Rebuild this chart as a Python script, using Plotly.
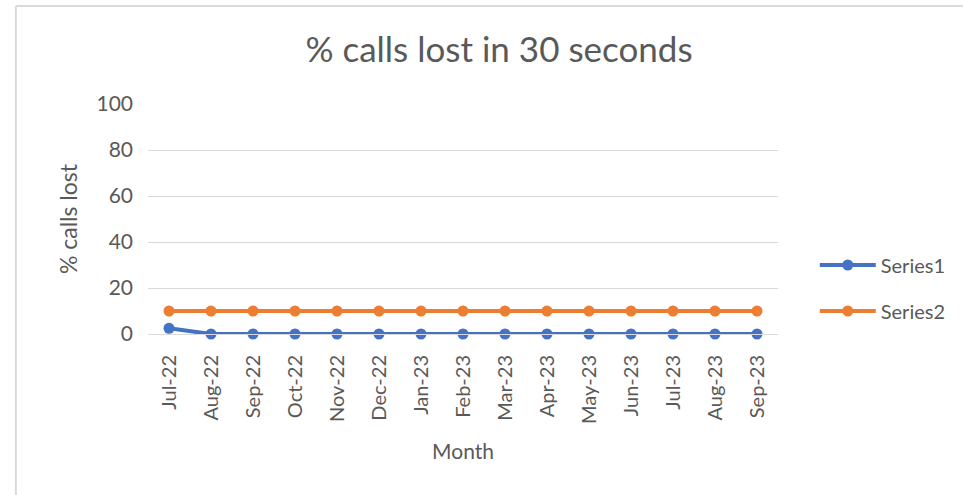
import plotly.graph_objects as go

months = ["Jul-22", "Aug-22", "Sep-22", "Oct-22", "Nov-22", "Dec-22", "Jan-23",
          "Feb-23", "Mar-23", "Apr-23", "May-23", "Jun-23", "Jul-23", "Aug-23", "Sep-23"]
series1 = [2.5, 0, 0, 0, 0, 0, 0, 0, 0, 0, 0, 0, 0, 0, 0]
series2 = [10, 10, 10, 10, 10, 10, 10, 10, 10, 10, 10, 10, 10, 10, 10]
y_ticks = [0, 20, 40, 60, 80, 100]

FONT = "Lato"
GREY = "#595959"

fig = go.Figure()
fig.add_trace(go.Scatter(x=months, y=series1, name="Series1", mode="lines+markers",
                         line=dict(color="#4472C4", width=4),
                         marker=dict(size=11, color="#4472C4"),
                         cliponaxis=False, legend="legend", showlegend=True))
fig.add_trace(go.Scatter(x=months, y=series2, name="Series2", mode="lines+markers",
                         line=dict(color="#ED7D31", width=4),
                         marker=dict(size=11, color="#ED7D31"),
                         cliponaxis=False, legend="legend2", showlegend=True))

L, R, T, B = 148, 181, 104, 161
W, H = 963, 495
pw, ph = W - L - R, H - T - B

def px(x):
    return (x - L) / pw

def py(y):
    return (H - B - y) / ph

fig.update_layout(
    width=W, height=H,
    margin=dict(l=L, r=R, t=T, b=B),
    paper_bgcolor="white", plot_bgcolor="white",
    showlegend=True,
    font=dict(family=FONT, color=GREY),
    title=dict(text="% calls lost in 30 seconds", x=(499) / W, xanchor="center",
               y=1 - 50 / H, yanchor="middle",
               font=dict(family=FONT, size=35, color=GREY)),
    xaxis=dict(type="category", range=[-0.5, len(months) - 0.5], showgrid=False,
               showline=True, linecolor="#d9d9d9",
               linewidth=1, tickangle=-90, ticks="", ticklabelstandoff=12,
               tickfont=dict(size=20, color=GREY),
               title=dict(text="Month", font=dict(size=21, color=GREY), standoff=21)),
    yaxis=dict(range=[0, 100], tickvals=y_ticks, showgrid=True, gridcolor="#d9d9d9",
               zeroline=False, showline=False, ticks="",
               tickfont=dict(size=21, color=GREY), ticklabelstandoff=14,
               title=dict(text="% calls lost", font=dict(size=23, color=GREY), standoff=12)),
    legend=dict(x=px(819), y=py(265), xanchor="left", yanchor="middle",
                font=dict(size=20, color=GREY), itemwidth=56, bgcolor="rgba(0,0,0,0)"),
    legend2=dict(x=px(819), y=py(311), xanchor="left", yanchor="middle",
                 font=dict(size=20, color=GREY), itemwidth=56, bgcolor="rgba(0,0,0,0)"),
    shapes=[
        dict(type="line", xref="paper", yref="paper", x0=px(15), x1=px(W + 5),
             y0=py(6), y1=py(6), line=dict(color="#d9d9d9", width=2)),
        dict(type="line", xref="paper", yref="paper", x0=px(15), x1=px(15),
             y0=py(6), y1=py(H + 5), line=dict(color="#d9d9d9", width=2)),
    ],
)

fig.write_html("out.html", config={"displayModeBar": False},
               post_script="document.body.style.margin='0';")
